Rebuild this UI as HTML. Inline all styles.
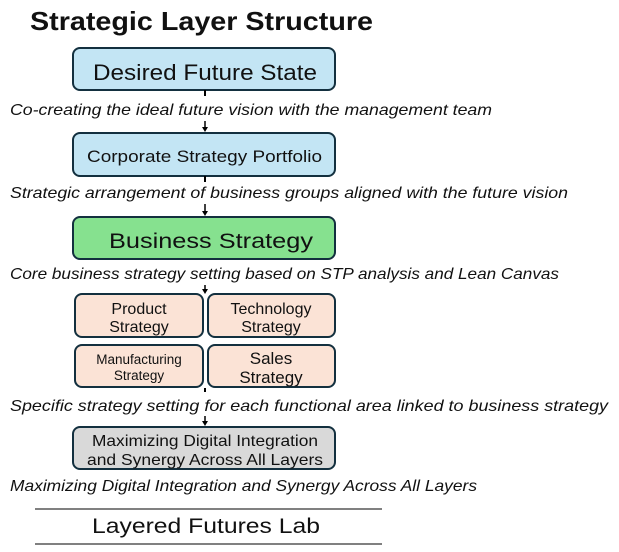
<!DOCTYPE html>
<html><head><meta charset="utf-8"><style>
html,body{margin:0;padding:0;background:#fff;width:619px;height:552px;overflow:hidden}
svg text{font-family:"Liberation Sans",sans-serif;fill:#111}
.cap{font-style:italic;font-size:16px}
.bx{stroke:#13303f;stroke-width:2}
</style></head><body>
<svg width="619" height="552" viewBox="0 0 619 552" xmlns="http://www.w3.org/2000/svg">
<text x="30" y="30" font-size="26" font-weight="bold" textLength="343" lengthAdjust="spacingAndGlyphs" fill="#000">Strategic Layer Structure</text>

<rect class="bx" x="73" y="48" width="262" height="42" rx="7" fill="#c3e5f4"/>
<text x="93" y="80" font-size="22" textLength="224" lengthAdjust="spacingAndGlyphs">Desired Future State</text>
<line x1="205" y1="90" x2="205" y2="96" stroke="#000" stroke-width="2"/>
<text class="cap" x="10" y="115" textLength="482" lengthAdjust="spacingAndGlyphs">Co-creating the ideal future vision with the management team</text>
<line x1="205" y1="121" x2="205" y2="128" stroke="#000" stroke-width="1.5"/><path d="M202 127 L208 127 L205 132Z" fill="#000"/>

<rect class="bx" x="73" y="133" width="262" height="43" rx="7" fill="#c3e5f4"/>
<text x="87" y="162" font-size="16.5" textLength="235" lengthAdjust="spacingAndGlyphs">Corporate Strategy Portfolio</text>
<line x1="205" y1="176" x2="205" y2="182" stroke="#000" stroke-width="2"/>
<text class="cap" x="10" y="198" textLength="558" lengthAdjust="spacingAndGlyphs">Strategic arrangement of business groups aligned with the future vision</text>
<line x1="205" y1="204" x2="205" y2="212" stroke="#000" stroke-width="1.5"/><path d="M202 211 L208 211 L205 216Z" fill="#000"/>

<rect class="bx" x="73" y="217" width="262" height="42" rx="7" fill="#86e18f"/>
<text x="109" y="248" font-size="21" textLength="204" lengthAdjust="spacingAndGlyphs">Business Strategy</text>
<text class="cap" x="10" y="279" textLength="549" lengthAdjust="spacingAndGlyphs">Core business strategy setting based on STP analysis and Lean Canvas</text>
<line x1="205" y1="285" x2="205" y2="290" stroke="#000" stroke-width="1.5"/><path d="M202 289 L208 289 L205 294Z" fill="#000"/>

<rect class="bx" x="75" y="294" width="128" height="43" rx="7" fill="#fbe3d6"/>
<rect class="bx" x="208" y="294" width="127" height="43" rx="7" fill="#fbe3d6"/>
<rect class="bx" x="75" y="345" width="128" height="42" rx="7" fill="#fbe3d6"/>
<rect class="bx" x="208" y="345" width="127" height="42" rx="7" fill="#fbe3d6"/>
<g font-size="16" text-anchor="middle">
<text x="139" y="314">Product</text><text x="139" y="332">Strategy</text>
<text x="271" y="314">Technology</text><text x="271" y="332">Strategy</text>
<text x="139" y="364" font-size="13.5">Manufacturing</text><text x="139" y="380" font-size="13.5">Strategy</text>
<text x="271" y="364" font-size="17">Sales</text><text x="271" y="383" font-size="17">Strategy</text>
</g>
<line x1="205" y1="388" x2="205" y2="392" stroke="#000" stroke-width="2"/>
<text class="cap" x="10" y="411" textLength="598" lengthAdjust="spacingAndGlyphs">Specific strategy setting for each functional area linked to business strategy</text>
<line x1="205" y1="416" x2="205" y2="422" stroke="#000" stroke-width="1.5"/><path d="M202 421 L208 421 L205 426Z" fill="#000"/>

<rect class="bx" x="73" y="427" width="262" height="42" rx="7" fill="#d9d9d9"/>
<g font-size="16" text-anchor="middle">
<text x="205" y="446" textLength="226" lengthAdjust="spacingAndGlyphs">Maximizing Digital Integration</text>
<text x="205" y="465" textLength="236" lengthAdjust="spacingAndGlyphs">and Synergy Across All Layers</text>
</g>
<text class="cap" x="10" y="491" textLength="467" lengthAdjust="spacingAndGlyphs">Maximizing Digital Integration and Synergy Across All Layers</text>

<line x1="35" y1="509" x2="382" y2="509" stroke="#000" stroke-width="1"/>
<text x="92" y="533" font-size="21" textLength="228" lengthAdjust="spacingAndGlyphs" fill="#000">Layered  Futures  Lab</text>
<line x1="35" y1="544" x2="382" y2="544" stroke="#000" stroke-width="1"/>
</svg>
</body></html>
